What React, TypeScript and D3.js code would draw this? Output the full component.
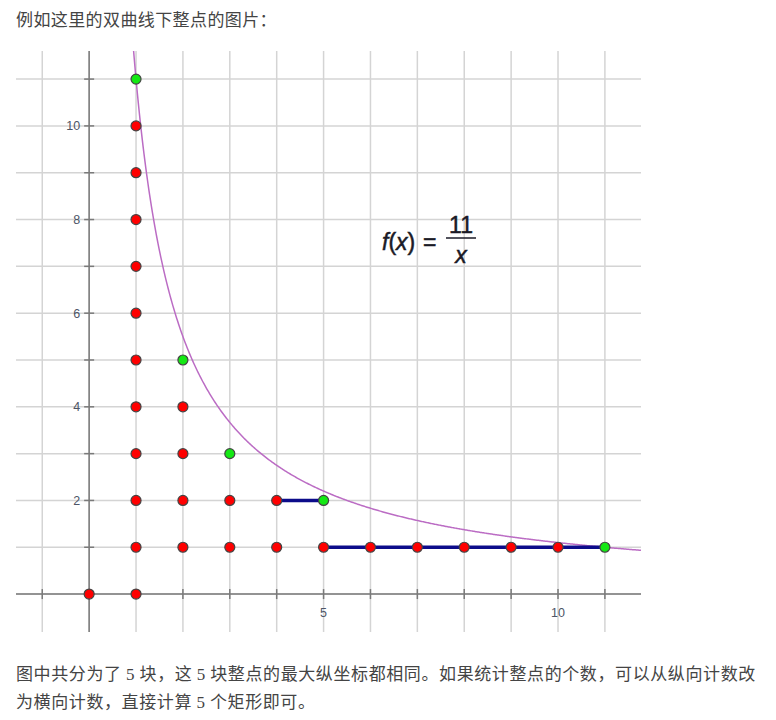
import React from "react";
import * as d3 from "d3";

// f(x) = N / x
const N = 11;

// lattice points under the hyperbola
const redPoints: [number, number][] = [
  [0, 0], [1, 0],
  [1, 1], [1, 2], [1, 3], [1, 4], [1, 5], [1, 6], [1, 7], [1, 8], [1, 9], [1, 10],
  [2, 1], [2, 2], [2, 3], [2, 4],
  [3, 1], [3, 2],
  [4, 1], [4, 2],
  [5, 1], [6, 1], [7, 1], [8, 1], [9, 1], [10, 1],
];
const greenPoints: [number, number][] = [
  [1, 11], [2, 5], [3, 3], [5, 2], [11, 1],
];
const segments: [number, number][][] = [
  [[4, 2], [5, 2]],
  [[5, 1], [11, 1]],
];

const xTicks = [-1, 0, 1, 2, 3, 4, 5, 6, 7, 8, 9, 10, 11];
const yTicks = [0, 1, 2, 3, 4, 5, 6, 7, 8, 9, 10, 11];
const xLabels = [5, 10];
const yLabels = [2, 4, 6, 8, 10];

const topText = "例如这里的双曲线下整点的图片：";

const W = 776;
const H = 720;

const App: React.FC = () => {
  const x = d3.scaleLinear().domain([-1.56, 11.77]).range([16, 641]);
  const y = d3.scaleLinear().domain([-0.81, 11.6]).range([632, 51]);

  const [x0, x1] = x.range();
  const [y0, y1] = y.range();

  const curveData = d3.range(N / 11.6, 11.77, 0.02).map((v) => [v, N / v] as [number, number]);
  const curve = d3
    .line<[number, number]>()
    .x((d) => x(d[0]))
    .y((d) => y(d[1]))(curveData.concat([[11.77, N / 11.77]]));

  const seg = d3
    .line<[number, number]>()
    .x((d) => x(d[0]))
    .y((d) => y(d[1]));

  const cjk = "'Noto Sans CJK SC', 'Noto Sans', sans-serif";
  const serif = "'Liberation Serif', 'DejaVu Serif', serif";

  return (
    <svg
      width={W}
      height={H}
      viewBox={`0 0 ${W} ${H}`}
      style={{ position: "absolute", left: 0, top: 0, background: "#fff" }}
    >
      <text x={16} y={26} fontFamily={cjk} fontSize={17} letterSpacing={0.4} fill="#444">
        {topText}
      </text>

      {/* grid */}
      <g stroke="#d4d4d4" strokeWidth={1.5}>
        {xTicks.map((t) => (
          <line key={"gx" + t} x1={x(t)} x2={x(t)} y1={y1} y2={y0} />
        ))}
        {yTicks.map((t) => (
          <line key={"gy" + t} x1={x0} x2={x1} y1={y(t)} y2={y(t)} />
        ))}
      </g>

      {/* axes */}
      <g stroke="#7a7a7a" strokeWidth={1.5}>
        <line x1={x0} x2={x1} y1={y(0)} y2={y(0)} />
        <line x1={x(0)} x2={x(0)} y1={y1} y2={y0} />
        {xTicks.filter((t) => t !== 0).map((t) => (
          <line key={"tx" + t} x1={x(t)} x2={x(t)} y1={y(0) - 5} y2={y(0) + 5} />
        ))}
        {yTicks.filter((t) => t !== 0).map((t) => (
          <line key={"ty" + t} x1={x(0) - 5} x2={x(0) + 5} y1={y(t)} y2={y(t)} />
        ))}
      </g>
      <g fontFamily="'Liberation Sans', Arial, sans-serif" fontSize={12.5} fill="#4d5566">
        {yLabels.map((t) => (
          <text key={"ly" + t} x={x(0) - 9} y={y(t) + 4.5} textAnchor="end">
            {t}
          </text>
        ))}
        {xLabels.map((t) => (
          <text key={"lx" + t} x={x(t)} y={y(0) + 23} textAnchor="middle">
            {t}
          </text>
        ))}
      </g>

      {/* hyperbola */}
      <path d={curve ?? ""} fill="none" stroke="#bb6cc4" strokeWidth={1.5} />

      {/* segments */}
      <g stroke="#0c0c8a" strokeWidth={3.5} fill="none">
        {segments.map((s, i) => (
          <path key={"s" + i} d={seg(s) ?? ""} />
        ))}
      </g>

      {/* points */}
      <g stroke="#444" strokeWidth={1.2}>
        {redPoints.map((p, i) => (
          <circle key={"r" + i} cx={x(p[0])} cy={y(p[1])} r={5} fill="#ff0000" />
        ))}
        {greenPoints.map((p, i) => (
          <circle key={"g" + i} cx={x(p[0])} cy={y(p[1])} r={5} fill="#14e814" />
        ))}
      </g>

      {/* formula */}
      <g
        fontFamily="'Liberation Sans', Arial, sans-serif"
        fill="#1a1a26"
        stroke="#1a1a26"
        strokeWidth={0.5}
        fontSize={23}
      >
        <text x={382} y={250} fontStyle="italic">
          f<tspan fontStyle="normal">(</tspan>x<tspan fontStyle="normal">)</tspan>
        </text>
        <text x={423} y={250}>=</text>
        <text x={461} y={233} textAnchor="middle">11</text>
        <line x1={446} x2={476} y1={238} y2={238} strokeWidth={1.5} />
        <text x={461} y={263} textAnchor="middle" fontStyle="italic">x</text>
      </g>

      {/* caption */}
      <g fontFamily={cjk} fontSize={17} letterSpacing={0.6} fill="#444">
        <text x={16} y={680}>
          图中共分为了 <tspan fontFamily={serif}>5</tspan> 块，这 <tspan fontFamily={serif}>5</tspan> 块整点的最大纵坐标都相同。如果统计整点的个数，可以从纵向计数改
        </text>
        <text x={16} y={708}>
          为横向计数，直接计算 <tspan fontFamily={serif}>5</tspan> 个矩形即可。
        </text>
      </g>
    </svg>
  );
};

export default App;
